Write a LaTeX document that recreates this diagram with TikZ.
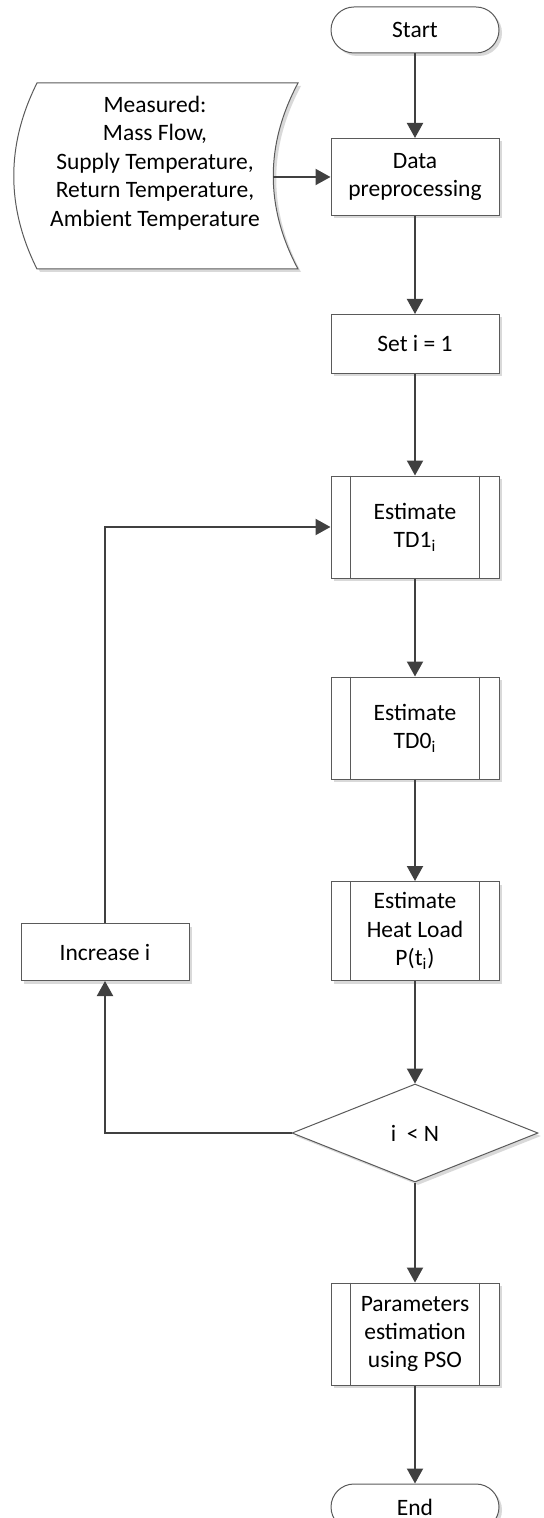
\documentclass[tikz,border=0pt]{standalone}
\usepackage{fontspec}
\setmainfont{Carlito}
\usetikzlibrary{arrows.meta,shapes.geometric,shadows}
\definecolor{cline}{RGB}{90,90,90}
\definecolor{carrow}{RGB}{64,64,64}
\tikzset{
  flow/.style={x=0.5pt,y=-0.5pt,font=\fontsize{11.75}{14.2}\selectfont},
  shade/.style={drop shadow={shadow xshift=1.5pt,shadow yshift=-1.5pt,fill=black!15,opacity=1}},
  box/.style={draw=cline,line width=0.5pt,fill=white,align=center,minimum width=84pt,inner sep=2pt,shade},
  term/.style={box,rounded corners=11.5pt,minimum height=23pt},
  subproc/.style={box,minimum height=51pt},
  decide/.style={box,diamond,minimum width=123pt,minimum height=49pt,inner sep=0pt},
  link/.style={carrow,line width=1pt,-{Triangle[length=7.5pt,width=8pt]}},
}

\begin{document}
\begin{tikzpicture}[flow]
    \useasboundingbox (0,0) rectangle (544,1518);
    % main column
    \node[term] (start) at (415,30) {Start};
    \node[box,minimum height=38.5pt] (data) at (415,177) {Data\\preprocessing};
    \node[box,minimum height=29.5pt] (seti) at (415,344) {Set i = 1};
    \node[subproc] (td1) at (415,527) {Estimate\\TD1\textsubscript{i}};
    \node[subproc] (td0) at (415,728) {Estimate\\TD0\textsubscript{i}};
    \node[subproc,minimum height=49.5pt] (load) at (415,931) {Estimate\\Heat Load\\P(t\textsubscript{i})};
    \node[decide] (cond) at (415,1133) {i\ \ < N};
    \node[subproc] (pso) at (415,1334) {Parameters\\estimation\\using PSO};
    \node[term] (stop) at (415,1507) {End};
    \node[box,minimum height=28.5pt] (inc) at (105,952) {Increase i}; % loop box
    \foreach \n in {td1,td0,load,pso}
      \draw[cline,line width=0.5pt] ([xshift=10pt]\n.north west) -- ([xshift=10pt]\n.south west)
        ([xshift=-10pt]\n.north east) -- ([xshift=-10pt]\n.south east); % side bars
    % stored data
    \filldraw[draw=cline,line width=0.5pt,fill=white,shade] (37,83) -- (298,83)
      .. controls (265,145) and (265,207) .. (298,269) -- (37,269)
      .. controls (6,207) and (6,145) .. cycle;
    \node[align=center] (meas) at (155,163)
      {Measured:\\Mass Flow,\\Supply Temperature,\\Return Temperature,\\Ambient Temperature};
    \coordinate (measout) at (273,177);
    % connectors
    \draw[link] (start) -- (data);
    \draw[link] (measout) -- (data);
    \draw[link] (data) -- (seti);
    \draw[link] (seti) -- (td1);
    \draw[link] (td1) -- (td0);
    \draw[link] (td0) -- (load);
    \draw[link] (load) -- (cond);
    \draw[link] (cond) -- (pso);
    \draw[link] (pso) -- (stop);
    \draw[link] (cond.west) -| (inc.south);
    \draw[link] (inc.north) |- (td1.west);
\end{tikzpicture}
\end{document}
